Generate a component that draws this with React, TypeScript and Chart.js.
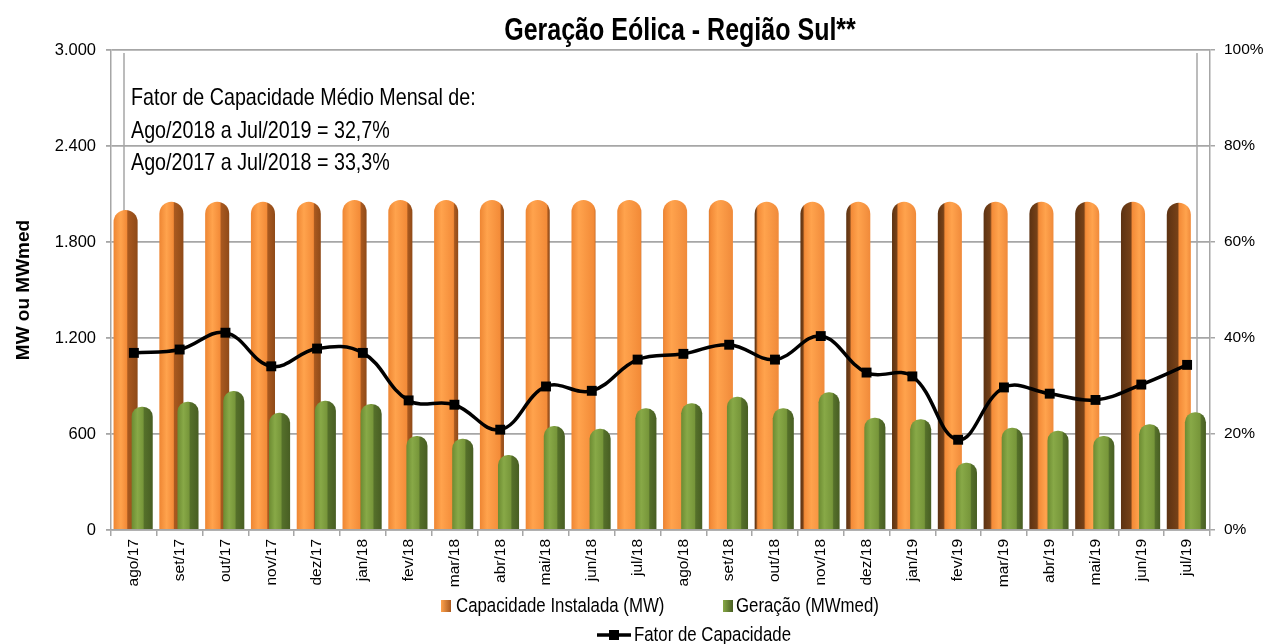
import React, { useEffect, useRef } from "react";
import { Chart, registerables } from "chart.js";

Chart.register(...registerables);

const categories = [
  "ago/17", "set/17", "out/17", "nov/17", "dez/17", "jan/18", "fev/18", "mar/18",
  "abr/18", "mai/18", "jun/18", "jul/18", "ago/18", "set/18", "out/18", "nov/18",
  "dez/18", "jan/19", "fev/19", "mar/19", "abr/19", "mai/19", "jun/19", "jul/19",
];
const capacidadeInstalada = [
  2000, 2052, 2052, 2052, 2052, 2063, 2063, 2063, 2063, 2063, 2063, 2063,
  2063, 2063, 2052, 2052, 2052, 2052, 2052, 2052, 2052, 2052, 2052, 2046,
];
const geracao = [
  771, 802, 869, 733, 808, 788, 588, 571, 469, 650, 633, 761,
  792, 833, 761, 861, 702, 692, 421, 639, 621, 588, 661, 736,
];
const fatorCapacidade = [
  36.9, 37.6, 41.1, 34.1, 37.8, 36.9, 27.0, 26.1, 20.9, 29.9, 29.0, 35.5,
  36.7, 38.6, 35.5, 40.4, 32.8, 32.0, 18.8, 29.7, 28.4, 27.1, 30.3, 34.4,
];
const leftTicks = [0, 600, 1200, 1800, 2400, 3000];
const rightTicks = [0, 20, 40, 60, 80, 100];
const chartTitle = "Geração Eólica - Região Sul**";
const yAxisTitle = "MW ou MWmed";
const noteLines = [
  "Fator de Capacidade Médio Mensal de:",
  "Ago/2018 a Jul/2019 = 32,7%",
  "Ago/2017 a Jul/2018 = 33,3%",
];
const seriesNames = ["Capacidade Instalada (MW)", "Geração (MWmed)", "Fator de Capacidade"];

const SANS = "'Liberation Sans', Arial, sans-serif";
const NARROW_SCALE = 0.82;
const GRID = "#A6A6A6";
const CAT_PCT = 0.725;
const ORANGE_BP = 1.45;
const GREEN_BP = 1.27;

function fmtThousands(v: number) {
  return String(v).replace(/\B(?=(\d{3})+(?!\d))/g, ".");
}

function orangeGradient(ctx: CanvasRenderingContext2D, left: number, right: number, i: number) {
  const g = ctx.createLinearGradient(left, 0, right, 0);
  const t = i / (categories.length - 1);
  if (t <= 0.5) {
    const d = Math.max(0, (0.48 - t) * 0.85);
    const e = Math.max(0.55, 1 - d);
    g.addColorStop(0, "#EE8633");
    g.addColorStop(0.3, "#FFA34D");
    g.addColorStop(Math.max(0.31, e - 0.05), "#F38B38");
    g.addColorStop(e, d > 0.05 ? "#A9591F" : "#E47F30");
    g.addColorStop(1, d > 0.05 ? "#8F4A18" : "#C46A26");
  } else {
    const d = Math.min(0.45, Math.max(0, (t - 0.55) * 1.0));
    g.addColorStop(0, d > 0.05 ? "#5C3212" : "#C46A26");
    g.addColorStop(d, d > 0.05 ? "#764118" : "#E47F30");
    g.addColorStop(Math.min(0.6, d + 0.07), "#F38B38");
    g.addColorStop(Math.min(0.9, d + 0.35), "#FFA34D");
    g.addColorStop(1, "#F08A3A");
  }
  return g;
}

function greenGradient(ctx: CanvasRenderingContext2D, left: number, right: number, i: number) {
  const g = ctx.createLinearGradient(left, 0, right, 0);
  const t = i / (categories.length - 1);
  const d = 0.4 - 0.18 * t;
  g.addColorStop(0, "#6C8B32");
  g.addColorStop(0.28, "#88A947");
  g.addColorStop(1 - d - 0.06, "#77963A");
  g.addColorStop(1 - d, "#55702A");
  g.addColorStop(1, "#485E23");
  return g;
}

// scriptable so each bar gets its own options object (shaded later from its geometry)
const orangeFlat = () => "#F79646";
const greenFlat = () => "#77933C";

function shadeBars(chart: any, dsIndex: number, maker: typeof orangeGradient) {
  const meta = chart.getDatasetMeta(dsIndex);
  meta.data.forEach((el: any, i: number) => {
    const left = el.x - el.width / 2;
    const right = el.x + el.width / 2;
    if (!isFinite(left) || !isFinite(right) || !el.options) return;
    try {
      el.options.backgroundColor = maker(chart.ctx, left, right, i);
    } catch (e) {
      /* keep flat colour */
    }
  });
}

function narrowText(
  ctx: CanvasRenderingContext2D, text: string, x: number, y: number,
  size: number, bold: boolean, align: CanvasTextAlign,
) {
  ctx.save();
  ctx.font = `${bold ? "bold " : ""}${size}px ${SANS}`;
  ctx.textAlign = align;
  ctx.textBaseline = "middle";
  ctx.fillStyle = "#000";
  ctx.translate(x, y);
  ctx.scale(NARROW_SCALE, 1);
  ctx.fillText(text, 0, 0);
  ctx.restore();
}

const decorPlugin = {
  id: "decor",
  beforeDatasetsDraw(chart: any) {
    const { ctx, chartArea: a } = chart;
    ctx.save();
    ctx.strokeStyle = GRID;
    ctx.lineWidth = 1.5;
    ctx.beginPath();
    ctx.moveTo(a.left + 13, a.top + 3);
    ctx.lineTo(a.left + 13, a.bottom - 5);
    ctx.moveTo(a.right - 13, a.top + 3);
    ctx.lineTo(a.right - 13, a.bottom - 5);
    ctx.stroke();
    ctx.restore();
    shadeBars(chart, 0, orangeGradient);
    shadeBars(chart, 1, greenGradient);
    // orange columns sit behind the green ones
    chart.getDatasetMeta(0).controller.draw();
  },
  beforeDatasetDraw(_chart: any, args: any) {
    if (args.index === 0) return false;
    return true;
  },
  afterDraw(chart: any) {
    const ctx = chart.ctx as CanvasRenderingContext2D;
    narrowText(ctx, chartTitle, 680, 32, 30.5, true, "center");
    const noteY = [98, 131, 163];
    noteLines.forEach((s, k) => narrowText(ctx, s, 131, noteY[k], 24, false, "left"));

    ctx.save();
    const r1 = 606;
    let g = ctx.createLinearGradient(441, 0, 451, 0);
    g.addColorStop(0, "#FFA34D");
    g.addColorStop(1, "#A9591F");
    ctx.fillStyle = g;
    ctx.fillRect(441, r1 - 6, 10, 12);
    g = ctx.createLinearGradient(723, 0, 733, 0);
    g.addColorStop(0, "#88A947");
    g.addColorStop(1, "#485E23");
    ctx.fillStyle = g;
    ctx.fillRect(723, r1 - 6, 10, 12);
    const r2 = 635;
    ctx.strokeStyle = "#000";
    ctx.fillStyle = "#000";
    ctx.lineWidth = 3.5;
    ctx.beginPath();
    ctx.moveTo(597, r2);
    ctx.lineTo(631, r2);
    ctx.stroke();
    ctx.fillRect(609, r2 - 5, 10, 10);
    ctx.restore();
    narrowText(ctx, seriesNames[0], 456, r1, 20.5, false, "left");
    narrowText(ctx, seriesNames[1], 736, r1, 20.5, false, "left");
    narrowText(ctx, seriesNames[2], 634, r2, 20.5, false, "left");
  },
};

export default function App() {
  const ref = useRef<HTMLCanvasElement | null>(null);
  useEffect(() => {
    document.body.style.margin = "0";
    if (!ref.current) return;
    const chart = new Chart(ref.current, {
      type: "bar",
      data: {
        labels: categories,
        datasets: [
          {
            type: "bar",
            label: seriesNames[0],
            data: capacidadeInstalada,
            yAxisID: "y",
            backgroundColor: orangeFlat as any,
            borderWidth: 0,
            borderRadius: { topLeft: 12, topRight: 12 },
            categoryPercentage: CAT_PCT,
            barPercentage: ORANGE_BP,
            order: 0,
          },
          {
            type: "bar",
            label: seriesNames[1],
            data: geracao,
            yAxisID: "y",
            backgroundColor: greenFlat as any,
            borderWidth: 0,
            borderRadius: { topLeft: 10, topRight: 10 },
            categoryPercentage: CAT_PCT,
            barPercentage: GREEN_BP,
            order: 0,
          },
          {
            type: "line",
            label: seriesNames[2],
            data: fatorCapacidade,
            yAxisID: "y1",
            borderColor: "#000",
            borderWidth: 3.5,
            backgroundColor: "#000",
            pointStyle: "rect",
            pointRadius: 7,
            pointBackgroundColor: "#000",
            pointBorderWidth: 0,
            tension: 0.4,
            fill: false,
            order: -1,
          } as any,
        ],
      },
      options: {
        responsive: false,
        animation: false,
        layout: { padding: { top: 50, left: 0, right: 0, bottom: 0 } },
        plugins: {
          legend: { display: false },
          title: { display: false },
          tooltip: { enabled: false },
        },
        scales: {
          x: {
            type: "category",
            offset: true,
            grid: { display: true, drawOnChartArea: false, offset: true, tickLength: 6, color: GRID, lineWidth: 1.5 },
            border: { display: true, color: GRID, width: 1.5 },
            ticks: {
              autoSkip: false,
              maxRotation: 90,
              minRotation: 90,
              padding: 3,
              color: "#000",
              font: { family: SANS, size: 15.5 },
            },
            afterFit: (s: any) => { s.height = 114; },
          },
          y: {
            position: "left",
            min: 0,
            max: 3000,
            afterBuildTicks: (s: any) => { s.ticks = leftTicks.map((value) => ({ value })); },
            grid: { color: GRID, lineWidth: 1.8, tickLength: 5 },
            border: { display: true, color: GRID, width: 1.5 },
            ticks: {
              padding: 10,
              color: "#000",
              font: { family: SANS, size: 16.5 },
              callback: (v: any) => fmtThousands(Number(v)),
            },
            title: {
              display: true,
              text: yAxisTitle,
              color: "#000",
              font: { family: SANS, size: 19, weight: "bold" },
              padding: { top: 12, bottom: 0 },
            },
            afterFit: (s: any) => { s.width = 111; },
          },
          y1: {
            position: "right",
            min: 0,
            max: 100,
            afterBuildTicks: (s: any) => { s.ticks = rightTicks.map((value) => ({ value })); },
            grid: { drawOnChartArea: false, tickLength: 5, color: GRID, lineWidth: 1.5 },
            border: { display: true, color: GRID, width: 1.5 },
            ticks: {
              padding: 9,
              color: "#000",
              font: { family: SANS, size: 15.5 },
              callback: (v: any) => `${v}%`,
            },
            afterFit: (s: any) => { s.width = 60; },
          },
        },
      } as any,
      plugins: [decorPlugin as any],
    });
    return () => chart.destroy();
  }, []);
  return (
    <div style={{ width: 1270, height: 644, overflow: "hidden" }}>
      <canvas ref={ref} width={1270} height={644} style={{ display: "block" }} />
    </div>
  );
}
